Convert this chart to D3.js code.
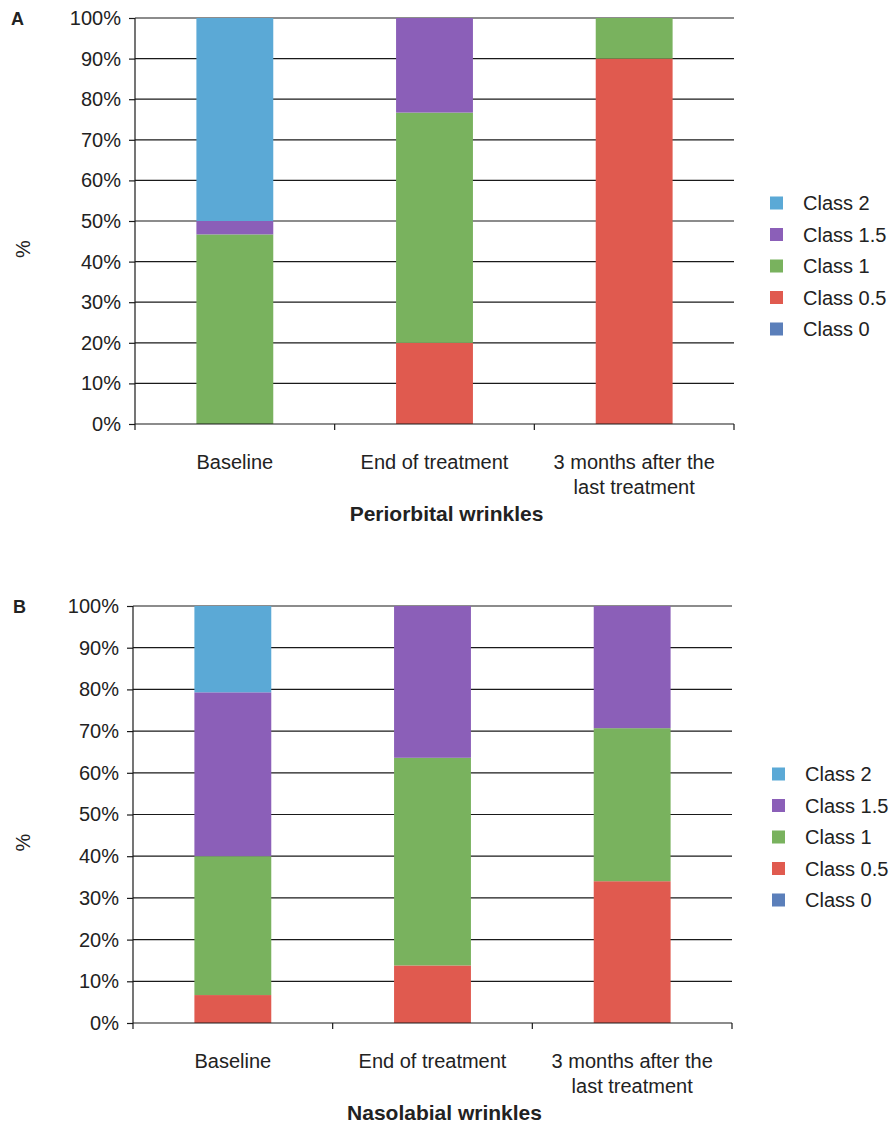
<!DOCTYPE html>
<html>
<head>
<meta charset="utf-8">
<script src="https://cdn.jsdelivr.net/npm/d3@7"></script>
<style>
  html, body { margin: 0; padding: 0; background: #fff; }
  svg { display: block; font-family: "Liberation Sans", Arial, Helvetica, sans-serif; }
</style>
</head>
<body>
<svg id="chart" width="895" height="1126"></svg>
<script>
// Time points (x categories); each label is split over lines
const categories = ["Baseline", "End of treatment", "3 months after the last treatment"];
const categoryLines = [["Baseline"], ["End of treatment"], ["3 months after the", "last treatment"]];

// Wrinkle classes, listed as in the legend (top to bottom)
const classes = ["Class 2", "Class 1.5", "Class 1", "Class 0.5", "Class 0"];
const classColors = ["#5ba9d6", "#8b5fb8", "#79b25e", "#e05a4f", "#5b7fba"];

// Y axis ticks
const yTicks = [0, 10, 20, 30, 40, 50, 60, 70, 80, 90, 100];

// Periorbital wrinkles: share of patients (%) per class at each time point
const periClass0  = [0, 0, 0];
const periClass05 = [0, 20, 90];
const periClass1  = [46.7, 56.7, 10];
const periClass15 = [3.3, 23.3, 0];
const periClass2  = [50, 0, 0];

// Nasolabial wrinkles: share of patients (%) per class at each time point
const nasoClass0  = [0, 0, 0];
const nasoClass05 = [6.7, 13.8, 34];
const nasoClass1  = [33.3, 49.8, 36.7];
const nasoClass15 = [39.3, 36.4, 29.3];
const nasoClass2  = [20.7, 0, 0];

const svg = d3.select("#chart");
const color = d3.scaleOrdinal().domain(classes).range(classColors);

function buildRows(c0, c05, c1, c15, c2) {
  return categories.map((cat, i) => ({
    category: cat,
    "Class 0": c0[i], "Class 0.5": c05[i], "Class 1": c1[i],
    "Class 1.5": c15[i], "Class 2": c2[i]
  }));
}

function drawPanel(opt) {
  const g = svg.append("g");
  const x = d3.scaleBand().domain(categories)
    .range([opt.left, opt.right]).paddingInner(0.615).paddingOuter(0.3075);
  const y = d3.scaleLinear().domain([0, 100]).range([opt.bottom, opt.top]);

  // horizontal gridlines
  g.append("g").selectAll("line").data(yTicks.filter(d => d > 0)).join("line")
    .attr("x1", opt.left).attr("x2", opt.right)
    .attr("y1", d => y(d)).attr("y2", d => y(d))
    .attr("stroke", "#1a1a1a").attr("stroke-width", 1.2);

  // stacked bars, bottom class first
  const stackKeys = classes.slice().reverse();
  const series = d3.stack().keys(stackKeys)(opt.rows);
  g.append("g").selectAll("g").data(series).join("g")
    .attr("fill", d => color(d.key))
    .selectAll("rect").data(d => d).join("rect")
    .attr("x", d => x(d.data.category))
    .attr("width", x.bandwidth())
    .attr("y", d => y(d[1]))
    .attr("height", d => Math.max(0, y(d[0]) - y(d[1])));

  // y axis
  const yAxis = g.append("g").attr("transform", `translate(${opt.left},0)`)
    .call(d3.axisLeft(y).tickValues(yTicks).tickFormat(d => d + "%").tickSize(6).tickPadding(8));
  yAxis.select(".domain").attr("d", `M0,${opt.top}V${opt.bottom + 6}`).attr("stroke", "#1a1a1a").attr("stroke-width", 1.2);
  yAxis.selectAll(".tick line").attr("stroke", "#1a1a1a").attr("stroke-width", 1.2);
  yAxis.selectAll(".tick text").attr("font-size", 20).attr("fill", "#222")
    .attr("font-family", "Liberation Sans, Arial, sans-serif");

  // x axis line with boundary ticks between categories
  g.append("line").attr("x1", opt.left).attr("x2", opt.right)
    .attr("y1", opt.bottom).attr("y2", opt.bottom)
    .attr("stroke", "#1a1a1a").attr("stroke-width", 1.2);
  const step = x.step();
  const edges = categories.map(c => x(c) + x.bandwidth() / 2 + step / 2);
  g.append("g").selectAll("line").data(edges).join("line")
    .attr("x1", d => d).attr("x2", d => d)
    .attr("y1", opt.bottom).attr("y2", opt.bottom + 6)
    .attr("stroke", "#1a1a1a").attr("stroke-width", 1.2);

  // category labels
  const lbl = g.append("g").selectAll("text").data(categories).join("text")
    .attr("text-anchor", "middle").attr("font-size", 20).attr("fill", "#222")
    .attr("x", d => x(d) + x.bandwidth() / 2)
    .attr("y", opt.bottom + 45);
  lbl.each(function(d, i) {
    d3.select(this).selectAll("tspan").data(categoryLines[i]).join("tspan")
      .attr("x", x(d) + x.bandwidth() / 2)
      .attr("dy", (l, j) => j === 0 ? 0 : 25)
      .text(l => l);
  });

  // axis title and panel title
  g.append("text").attr("transform", `translate(${opt.pctX},${(opt.top + opt.bottom) / 2 + 28}) rotate(-90)`)
    .attr("text-anchor", "middle").attr("font-size", 20).attr("fill", "#222").text("%");
  g.append("text").attr("x", (opt.left + opt.right) / 2 + 12).attr("y", opt.bottom + 97)
    .attr("text-anchor", "middle").attr("font-size", 21).attr("font-weight", "bold").attr("fill", "#222")
    .text(opt.title);
  g.append("text").attr("x", opt.letterX).attr("y", opt.top + 7)
    .attr("font-size", 18).attr("font-weight", "bold").attr("fill", "#222").text(opt.letter);

  // legend
  const leg = g.append("g").selectAll("g").data(classes).join("g")
    .attr("transform", (d, i) => `translate(${opt.legendX},${opt.legendY + i * 31.5})`);
  leg.append("rect").attr("x", 0).attr("y", -6.5).attr("width", 13).attr("height", 13)
    .attr("fill", d => color(d));
  leg.append("text").attr("x", 33).attr("y", 7).attr("font-size", 20).attr("fill", "#222").text(d => d);
}

drawPanel({
  letter: "A", letterX: 11, title: "Periorbital wrinkles",
  left: 135, right: 734, top: 18, bottom: 424, pctX: 30,
  legendX: 770, legendY: 203,
  rows: buildRows(periClass0, periClass05, periClass1, periClass15, periClass2)
});

drawPanel({
  letter: "B", letterX: 13, title: "Nasolabial wrinkles",
  left: 133, right: 732, top: 606, bottom: 1023, pctX: 30,
  legendX: 772, legendY: 774,
  rows: buildRows(nasoClass0, nasoClass05, nasoClass1, nasoClass15, nasoClass2)
});
</script>
</body>
</html>
